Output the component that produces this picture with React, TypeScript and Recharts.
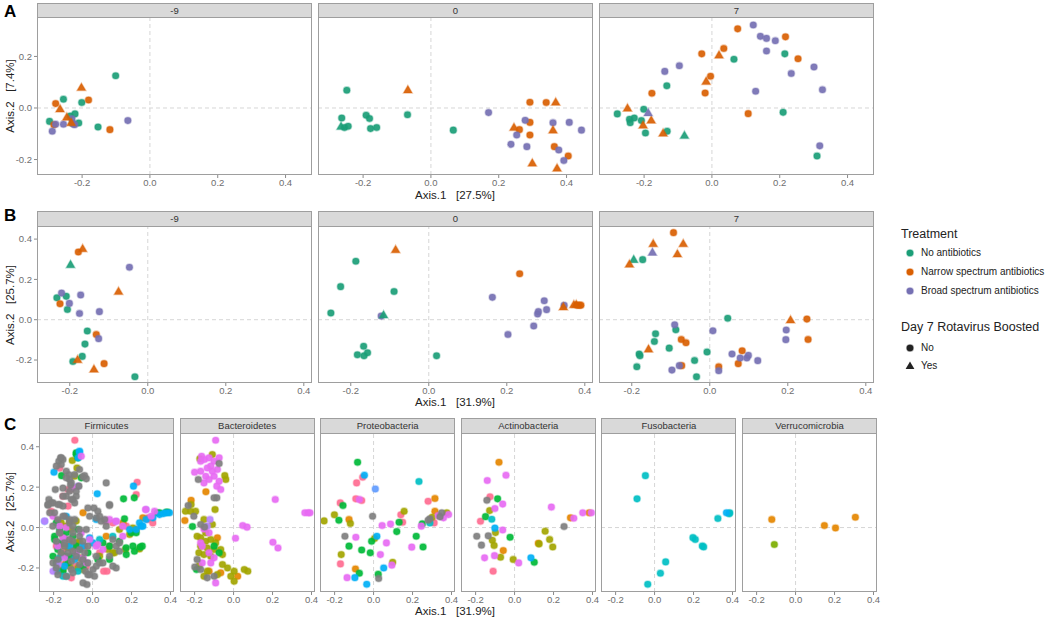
import React from "react";
import { ScatterChart, Scatter, XAxis, YAxis, ReferenceLine } from "recharts";

// ---------- data ----------
type Pt = [number, number, number, number]; // x, y, treatment index, boosted (0/1)
type GPt = [number, number, string]; // x, y, genus key

const treatmentNames = ["No antibiotics", "Narrow spectrum antibiotics", "Broad spectrum antibiotics"];
const treatmentColors = ["#1B9E77", "#D95F02", "#7570B3"];
const boostedNames = ["No", "Yes"];
const dayLabels = ["-9", "0", "7"];
const phylumLabels = ["Firmicutes", "Bacteroidetes", "Proteobacteria", "Actinobacteria", "Fusobacteria", "Verrucomicrobia"];
const xTickValues = [-0.2, 0, 0.2, 0.4];
const yTicksA = [-0.2, 0, 0.2];
const yTicksBC = [-0.2, 0, 0.2, 0.4];
const axisTitleA = ["Axis.1   [27.5%]", "Axis.2   [7.4%]"];
const axisTitleB = ["Axis.1   [31.9%]", "Axis.2   [25.7%]"];

const genusColors: Record<string, string> = {
  pnk: "#FF6C91", org: "#E58700", oli: "#A3A500", ygr: "#7CAE00", grn: "#00BA38",
  tea: "#00BFC4", sky: "#00B0F6", blu: "#619CFF", pur: "#B983FF", mag: "#E76BF3", gry: "#7F7F7F",
};

const aDayM9: Pt[] = [
  [-0.101, 0.125, 0, 0], [-0.202, 0.079, 1, 1], [-0.181, 0.031, 1, 0], [-0.255, 0.034, 0, 0],
  [-0.278, 0.017, 1, 0], [-0.201, 0.021, 0, 0], [-0.265, -0.004, 1, 1], [-0.296, -0.052, 0, 0],
  [-0.283, -0.065, 1, 0], [-0.278, -0.063, 2, 0], [-0.288, -0.09, 2, 0], [-0.255, -0.063, 2, 0],
  [-0.235, -0.031, 0, 0], [-0.23, -0.042, 2, 0], [-0.221, -0.023, 0, 0],
  [-0.229, -0.059, 0, 0], [-0.226, -0.062, 2, 0], [-0.222, -0.065, 2, 0], [-0.21, -0.058, 0, 0],
  [-0.153, -0.074, 0, 0], [-0.118, -0.084, 1, 0], [-0.065, -0.049, 2, 0],
  [-0.245, -0.036, 1, 1], [-0.232, -0.057, 1, 1],
];
const aDay0: Pt[] = [
  [-0.248, 0.069, 0, 0], [-0.068, 0.07, 1, 1], [-0.263, -0.039, 0, 0], [-0.191, -0.028, 0, 0],
  [-0.181, -0.041, 0, 0], [-0.069, -0.026, 0, 0], [-0.265, -0.072, 0, 1], [-0.255, -0.076, 0, 0],
  [-0.244, -0.071, 0, 0], [-0.178, -0.08, 0, 0], [-0.16, -0.076, 0, 0], [0.066, -0.086, 0, 0],
  [0.17, -0.018, 2, 0], [0.292, 0.022, 1, 0], [0.34, 0.021, 1, 0], [0.368, 0.022, 1, 1],
  [0.278, -0.048, 2, 0], [0.292, -0.056, 1, 0], [0.245, -0.076, 1, 1], [0.261, -0.084, 1, 0],
  [0.253, -0.105, 2, 0], [0.292, -0.105, 1, 0], [0.36, -0.057, 2, 0], [0.36, -0.086, 1, 1],
  [0.408, -0.056, 2, 0], [0.444, -0.086, 2, 0], [0.236, -0.141, 2, 0], [0.283, -0.15, 2, 0],
  [0.364, -0.15, 1, 0], [0.377, -0.163, 2, 0], [0.405, -0.186, 1, 0], [0.392, -0.204, 2, 0],
  [0.299, -0.214, 1, 1], [0.372, -0.234, 1, 1],
];
const aDay7: Pt[] = [
  [0.122, 0.322, 2, 0], [0.076, 0.307, 1, 0], [0.143, 0.278, 2, 0], [0.161, 0.27, 2, 0],
  [0.187, 0.261, 2, 0], [0.217, 0.276, 1, 0], [0.161, 0.221, 2, 0], [0.215, 0.21, 0, 0],
  [0.254, 0.191, 1, 0], [-0.03, 0.21, 1, 0], [0.021, 0.205, 1, 1], [0.035, 0.231, 1, 0],
  [0.065, 0.189, 0, 0], [-0.139, 0.142, 2, 0], [-0.096, 0.164, 2, 0], [0.234, 0.134, 2, 0],
  [0.301, 0.159, 2, 0], [0.326, 0.071, 2, 0], [0.129, 0.065, 2, 0], [-0.004, 0.123, 1, 0],
  [-0.017, 0.103, 1, 1], [-0.02, 0.058, 1, 0], [-0.133, 0.086, 0, 0], [-0.177, 0.057, 1, 0],
  [-0.249, -0.001, 1, 1], [-0.279, -0.023, 0, 0], [-0.201, -0.005, 0, 0], [-0.188, -0.019, 2, 1],
  [-0.229, -0.039, 0, 0], [-0.243, -0.044, 0, 0], [-0.241, -0.057, 0, 0], [-0.208, -0.049, 0, 0],
  [-0.203, -0.067, 1, 1], [-0.179, -0.048, 1, 1], [-0.196, -0.097, 0, 0], [-0.144, -0.098, 1, 1],
  [-0.132, -0.09, 0, 0], [-0.081, -0.107, 0, 1], [0.107, -0.022, 1, 0], [0.21, -0.017, 0, 0],
  [0.318, -0.147, 2, 0], [0.31, -0.186, 0, 0],
];

const bDayM9: Pt[] = [
  [-0.167, 0.352, 1, 1], [-0.178, 0.336, 1, 0], [-0.198, 0.273, 0, 1], [-0.047, 0.26, 2, 0],
  [-0.075, 0.14, 1, 1], [-0.233, 0.109, 0, 0], [-0.221, 0.132, 2, 0], [-0.209, 0.116, 0, 0],
  [-0.172, 0.123, 2, 0], [-0.225, 0.079, 1, 0], [-0.201, 0.081, 2, 0], [-0.206, 0.051, 0, 0],
  [-0.175, 0.031, 2, 0], [-0.124, 0.04, 2, 0], [-0.155, -0.056, 0, 0], [-0.132, -0.073, 1, 0],
  [-0.126, -0.094, 2, 0], [-0.161, -0.121, 0, 0], [-0.168, -0.182, 0, 0], [-0.18, -0.199, 1, 1],
  [-0.192, -0.207, 0, 0], [-0.112, -0.218, 1, 0], [-0.138, -0.246, 1, 1], [-0.033, -0.283, 0, 0],
];
const bDay0: Pt[] = [
  [-0.085, 0.347, 1, 1], [-0.187, 0.29, 0, 0], [-0.226, 0.164, 0, 0], [-0.089, 0.14, 0, 0],
  [-0.251, 0.033, 0, 0], [-0.122, 0.018, 2, 0], [-0.116, 0.023, 0, 1], [-0.167, -0.132, 0, 0],
  [-0.183, -0.174, 0, 0], [-0.166, -0.179, 0, 0], [-0.157, -0.164, 0, 0], [0.02, -0.179, 0, 0],
  [0.233, 0.228, 1, 0], [0.163, 0.111, 2, 0], [0.296, 0.094, 2, 0], [0.302, 0.05, 2, 0],
  [0.281, 0.04, 2, 0], [0.279, 0.028, 2, 0], [0.269, -0.031, 2, 0], [0.203, -0.073, 2, 0],
  [0.347, 0.071, 2, 0], [0.345, 0.063, 1, 1], [0.372, 0.074, 1, 1], [0.38, 0.072, 1, 0],
  [0.386, 0.072, 1, 0], [0.39, 0.072, 1, 0], [0.378, 0.075, 1, 1],
];
const bDay7: Pt[] = [
  [-0.093, 0.432, 1, 0], [-0.145, 0.377, 1, 1], [-0.068, 0.377, 1, 1], [-0.147, 0.334, 2, 1],
  [-0.083, 0.326, 1, 1], [-0.195, 0.298, 0, 1], [-0.172, 0.298, 0, 0], [-0.206, 0.275, 1, 1],
  [0.046, 0.007, 0, 0], [0.207, -0.002, 1, 1], [0.249, 0.003, 1, 0], [-0.09, -0.025, 2, 0],
  [-0.087, -0.05, 0, 0], [0.008, -0.055, 2, 0], [0.196, -0.051, 2, 0], [0.195, -0.099, 2, 0],
  [0.252, -0.098, 1, 0], [-0.139, -0.07, 0, 0], [-0.142, -0.108, 0, 0], [-0.073, -0.098, 1, 0],
  [-0.061, -0.114, 1, 0], [-0.104, -0.141, 0, 0], [-0.157, -0.146, 1, 1], [-0.181, -0.17, 0, 0],
  [-0.179, -0.179, 0, 0], [-0.187, -0.233, 0, 0], [-0.007, -0.16, 0, 0], [-0.039, -0.202, 0, 0],
  [-0.034, -0.283, 0, 0], [-0.078, -0.228, 2, 0], [-0.072, -0.228, 1, 0], [-0.097, -0.25, 2, 0],
  [0.023, -0.233, 1, 0], [0.023, -0.253, 2, 0], [0.057, -0.17, 2, 0], [0.083, -0.154, 1, 0],
  [0.078, -0.19, 2, 0], [0.073, -0.218, 1, 0], [0.095, -0.19, 2, 0], [0.099, -0.177, 2, 0],
  [0.123, -0.203, 2, 0],
];

const firmicutes: GPt[] = [
  [-0.091, 0.432, "pnk"],
  [-0.164, 0.345, "gry"], [-0.173, 0.328, "gry"], [-0.152, 0.337, "gry"], [-0.161, 0.312, "gry"],
  [-0.135, 0.279, "gry"], [-0.121, 0.261, "gry"], [-0.113, 0.211, "gry"], [-0.152, 0.195, "gry"],
  [-0.191, 0.188, "gry"], [-0.084, 0.155, "gry"], [-0.07, 0.205, "gry"], [-0.118, 0.238, "gry"],
  [-0.05, 0.251, "gry"], [-0.041, 0.257, "gry"], [-0.032, 0.241, "gry"], [-0.084, 0.18, "gry"],
  [-0.135, 0.155, "gry"], [-0.224, 0.139, "gry"], [-0.229, 0.111, "gry"], [-0.203, 0.122, "gry"],
  [-0.178, 0.114, "gry"], [-0.152, 0.106, "gry"], [-0.109, 0.139, "gry"], [-0.092, 0.122, "gry"],
  [-0.067, 0.373, "sky"], [-0.074, 0.345, "sky"], [-0.198, 0.274, "sky"], [0.024, 0.167, "sky"], [-0.246, 0.031, "blu"],
  [-0.084, 0.361, "grn"], [-0.159, 0.257, "grn"], [-0.058, 0.246, "grn"],
  [-0.104, 0.332, "oli"], [-0.08, 0.295, "oli"], [-0.092, 0.254, "oli"],
  [-0.169, 0.294, "pnk"], [-0.113, 0.188, "pnk"], [-0.212, 0.081, "pnk"], [-0.152, 0.155, "pnk"], [-0.126, 0.188, "pnk"],
  [-0.203, 0.056, "mag"], [-0.058, 0.353, "mag"], [-0.101, 0.196, "mag"],
  [0.21, 0.205, "sky"], [0.229, 0.224, "pnk"], [0.224, 0.163, "pnk"], [0.214, 0.147, "grn"], [0.159, 0.142, "grn"],
  [0.007, 0.097, "gry"], [0.087, 0.109, "gry"], [0.272, 0.089, "mag"], [0.318, 0.081, "mag"], [0.332, 0.073, "grn"],
  [0.344, 0.064, "sky"], [0.364, 0.069, "sky"], [0.378, 0.073, "sky"], [0.395, 0.073, "sky"], [0.386, 0.076, "grn"],
  [0.275, 0.04, "sky"], [0.284, 0.048, "pnk"], [0.258, 0.048, "org"], [0.241, 0.023, "sky"], [0.301, 0.056, "mag"],
  [0.309, 0.023, "pnk"], [0.25, 0.007, "sky"], [0.224, -0.01, "sky"], [0.207, -0.002, "oli"], [0.198, -0.026, "grn"],
  [0.173, 0.007, "pnk"], [0.156, 0.023, "org"], [0.121, 0.031, "mag"], [0.104, 0.023, "pnk"], [0.164, 0.043, "grn"],
  [0.138, -0.01, "oli"], [0.07, 0.007, "gry"], [0.044, 0.031, "gry"], [0.019, 0.048, "gry"], [0.07, 0.031, "pnk"], [0.067, 0.036, "mag"],
  [0.255, -0.092, "grn"], [0.244, -0.097, "grn"], [0.241, -0.106, "oli"], [0.215, -0.117, "grn"], [0.173, -0.134, "grn"],
  [0.169, -0.109, "oli"], [0.121, -0.092, "gry"], [0.138, -0.068, "grn"], [0.104, -0.043, "tea"], [0.087, -0.092, "pnk"],
  [0.113, -0.125, "oli"], [0.079, -0.109, "oli"], [0.053, -0.076, "grn"], [0.036, -0.059, "tea"], [0.019, -0.092, "mag"],
  [0.087, -0.142, "gry"], [0.121, -0.2, "gry"], [0.074, -0.216, "pnk"], [0.036, -0.142, "oli"], [0.027, -0.158, "grn"],
  [0.002, -0.208, "gry"], [-0.024, -0.233, "gry"], [-0.036, -0.216, "gry"], [0.019, -0.191, "gry"], [0.036, -0.175, "gry"],
  [-0.029, -0.282, "gry"],
  [-0.186, 0.023, "grn"], [-0.169, -0.01, "grn"], [-0.195, -0.043, "grn"], [-0.161, -0.076, "grn"], [-0.178, -0.109, "grn"],
  [-0.203, -0.142, "grn"], [-0.186, -0.208, "grn"], [-0.152, -0.216, "grn"], [-0.126, -0.175, "grn"], [-0.109, -0.142, "grn"],
  [-0.084, -0.092, "grn"], [-0.067, -0.109, "grn"], [-0.101, -0.043, "grn"], [-0.135, -0.026, "grn"], [-0.075, -0.01, "grn"],
  [-0.195, 0.073, "gry"], [-0.178, 0.04, "gry"], [-0.144, 0.056, "gry"], [-0.118, 0.023, "gry"], [-0.101, 0.007, "gry"],
  [-0.169, -0.026, "gry"], [-0.186, -0.068, "gry"], [-0.144, -0.092, "gry"], [-0.126, -0.125, "gry"], [-0.101, -0.068, "gry"],
  [-0.067, -0.043, "gry"], [-0.084, -0.142, "gry"], [-0.05, -0.158, "gry"], [-0.178, -0.158, "gry"], [-0.203, -0.175, "gry"],
  [-0.178, -0.233, "gry"], [-0.135, -0.241, "gry"], [-0.109, -0.208, "gry"], [-0.067, -0.183, "gry"], [-0.041, -0.125, "gry"],
  [-0.024, -0.092, "gry"], [-0.05, -0.068, "gry"], [-0.092, 0.04, "gry"], [-0.032, -0.01, "gry"],
  [-0.161, 0.023, "oli"], [-0.135, 0.007, "oli"], [-0.109, -0.01, "oli"], [-0.152, -0.043, "oli"], [-0.118, -0.076, "oli"],
  [-0.161, -0.134, "oli"], [-0.135, -0.175, "oli"], [-0.092, -0.109, "oli"], [-0.067, -0.068, "oli"], [-0.05, -0.208, "oli"],
  [-0.118, -0.191, "oli"],
  [-0.169, 0.007, "mag"], [-0.135, -0.059, "mag"], [-0.178, -0.092, "mag"], [-0.084, -0.125, "mag"], [-0.058, -0.026, "mag"],
  [-0.015, -0.059, "mag"], [-0.032, -0.175, "mag"], [-0.144, -0.15, "mag"],
  [-0.186, -0.092, "pnk"], [-0.152, -0.117, "pnk"], [-0.084, -0.191, "pnk"], [-0.109, -0.249, "pnk"], [-0.161, -0.183, "pnk"], [-0.032, -0.191, "pnk"],
  [-0.118, -0.092, "sky"], [-0.092, -0.158, "sky"], [-0.144, -0.191, "sky"], [-0.05, -0.092, "sky"], [-0.135, 0.056, "sky"],
  [-0.183, -0.216, "tea"], [-0.152, -0.241, "tea"], [-0.169, -0.15, "tea"], [-0.075, -0.216, "tea"],
  [-0.118, 0.031, "org"], [-0.152, -0.084, "org"], [-0.067, -0.15, "org"],
  [-0.178, -0.183, "pur"], [-0.203, -0.216, "pur"],
  [0.275, 0.089, "pur"], [0.344, 0.073, "grn"], [0.378, 0.076, "grn"], [0.31, 0.048, "sky"], [0.284, 0.04, "pnk"],
  [0.258, 0.007, "sky"], [0.224, -0.01, "org"], [0.19, -0.01, "sky"], [0.155, 0.007, "mag"], [0.121, 0.031, "pur"],
  [0.087, 0.04, "mag"], [0.062, 0.04, "gry"], [0.036, 0.056, "gry"], [0.019, 0.04, "sky"],
  [0.07, -0.043, "org"], [0.104, -0.059, "gry"], [0.155, -0.043, "mag"], [0.19, -0.034, "oli"], [0.224, -0.026, "grn"],
  [0.138, -0.076, "gry"], [0.087, -0.092, "grn"], [0.053, -0.109, "mag"], [0.036, -0.125, "pnk"], [0.104, -0.125, "oli"],
  [0.138, -0.117, "gry"], [0.172, -0.1, "grn"], [0.207, -0.092, "grn"], [0.027, -0.084, "mag"], [0.002, -0.076, "sky"],
  [-0.015, -0.051, "sky"], [0.019, -0.142, "gry"], [0.087, -0.158, "grn"], [0.053, -0.175, "gry"], [0.104, -0.191, "gry"],
  [0.057, -0.216, "pnk"], [0.01, -0.241, "gry"], [-0.015, -0.233, "gry"], [-0.049, -0.274, "gry"],
  [-0.186, -0.175, "grn"], [-0.186, -0.2, "gry"], [-0.152, -0.208, "oli"], [-0.135, -0.241, "tea"], [-0.101, -0.224, "gry"],
  [-0.075, -0.2, "oli"], [-0.049, -0.191, "grn"], [-0.024, -0.175, "gry"], [-0.049, -0.15, "mag"], [-0.024, -0.125, "grn"],
  [-0.067, -0.109, "gry"], [-0.041, -0.092, "pnk"], [-0.084, -0.076, "oli"], [-0.118, -0.059, "gry"], [-0.152, -0.051, "mag"],
  [-0.169, -0.026, "gry"], [-0.195, -0.059, "grn"], [-0.178, -0.092, "pnk"], [-0.161, -0.125, "gry"], [-0.135, -0.142, "grn"],
  [-0.109, -0.167, "gry"], [-0.084, -0.142, "sky"], [-0.101, -0.117, "gry"], [-0.126, -0.1, "oli"], [-0.144, -0.076, "gry"],
  [-0.101, -0.026, "gry"], [-0.135, 0, "mag"], [-0.067, -0.01, "gry"], [-0.084, 0.032, "oli"], [-0.118, 0.04, "gry"],
  [-0.152, 0.056, "gry"], [-0.178, 0.032, "pnk"], [-0.204, 0.007, "gry"], [-0.22, 0.073, "gry"], [-0.212, 0.122, "gry"],
  [-0.229, 0.114, "gry"], [-0.169, 0.114, "gry"], [-0.126, 0.106, "pnk"], [-0.101, 0.139, "gry"], [-0.152, 0.155, "gry"],
  [-0.118, 0.18, "gry"], [-0.075, 0.205, "pur"], [-0.109, 0.221, "gry"], [-0.135, 0.246, "gry"], [-0.092, 0.262, "gry"],
  [-0.067, 0.287, "gry"], [-0.186, 0.304, "gry"], [-0.161, 0.345, "gry"], [-0.075, 0.345, "grn"], [-0.084, 0.37, "grn"],
  [-0.067, 0.378, "sky"], [0.07, 0.221, "gry"], [0.087, 0.114, "gry"], [0.027, 0.081, "gry"], [-0.024, 0.097, "gry"],
  [-0.015, 0.056, "gry"], [-0.246, 0.032, "pur"], [-0.049, 0.073, "org"],
];

const bacteroidetes: GPt[] = [
  [-0.092, 0.432, "mag"], [-0.164, 0.353, "mag"], [-0.149, 0.337, "mag"], [-0.126, 0.345, "mag"], [-0.1, 0.328, "mag"],
  [-0.074, 0.345, "mag"], [-0.117, 0.304, "mag"], [-0.083, 0.287, "mag"], [-0.169, 0.279, "mag"], [-0.2, 0.274, "mag"],
  [-0.143, 0.254, "mag"], [-0.1, 0.254, "mag"], [-0.074, 0.229, "mag"], [-0.086, 0.205, "mag"], [-0.066, 0.188, "mag"],
  [-0.152, 0.221, "mag"], [-0.126, 0.238, "mag"], [-0.169, 0.328, "mag"], [-0.109, 0.279, "mag"], [-0.135, 0.295, "mag"],
  [-0.109, 0.361, "oli"], [-0.045, 0.257, "oli"], [-0.04, 0.238, "oli"], [-0.173, 0.34, "oli"],
  [-0.181, 0.238, "gry"], [-0.086, 0.147, "gry"], [-0.1, 0.147, "gry"], [-0.074, 0.317, "gry"],
  [-0.142, 0.177, "org"], [-0.25, 0.035, "org"], [-0.218, 0.135, "org"],
  [-0.233, 0.109, "gry"], [-0.204, 0.056, "gry"], [-0.169, 0.015, "gry"], [-0.149, 0.003, "gry"],
  [-0.218, 0.114, "oli"], [-0.221, 0.081, "oli"], [-0.195, 0.081, "oli"], [-0.247, 0.081, "oli"], [-0.095, 0.089, "oli"],
  [-0.152, 0.04, "oli"], [-0.109, 0.015, "oli"], [-0.143, -0.026, "oli"],
  [-0.121, 0.04, "pur"], [-0.135, 0.007, "pur"], [-0.126, -0.026, "mag"], [-0.152, -0.007, "mag"],
  [-0.211, 0.005, "grn"], [-0.1, -0.092, "grn"],
  [-0.187, -0.043, "oli"], [-0.169, -0.051, "oli"], [-0.143, -0.068, "oli"], [-0.117, -0.059, "oli"], [-0.092, -0.076, "oli"],
  [-0.169, -0.092, "oli"], [-0.135, -0.101, "oli"], [-0.1, -0.109, "oli"], [-0.066, -0.109, "oli"], [-0.057, -0.134, "oli"],
  [-0.178, -0.125, "oli"], [-0.152, -0.134, "oli"], [-0.117, -0.142, "oli"], [-0.057, -0.183, "oli"], [-0.031, -0.2, "oli"],
  [0.003, -0.216, "oli"], [-0.014, -0.241, "oli"], [0.003, -0.266, "oli"], [0.055, -0.208, "oli"], [0.073, -0.216, "oli"],
  [-0.135, -0.216, "oli"], [-0.178, -0.191, "oli"], [-0.152, -0.241, "oli"], [-0.083, -0.233, "oli"],
  [-0.169, -0.076, "mag"], [-0.126, -0.125, "mag"], [-0.161, -0.092, "mag"], [-0.1, -0.15, "mag"], [-0.092, -0.274, "mag"],
  [-0.161, -0.175, "mag"], [-0.117, -0.175, "mag"],
  [-0.083, -0.051, "org"], [-0.066, -0.224, "org"], [-0.126, -0.216, "org"], [0.021, -0.241, "org"],
  [-0.199, -0.195, "gry"], [-0.169, -0.208, "gry"], [-0.1, -0.241, "gry"], [-0.187, -0.158, "gry"], [-0.135, -0.249, "gry"],
  [-0.19, -0.208, "grn"], [-0.074, -0.125, "grn"],
  [0.214, 0.139, "mag"], [0.202, -0.073, "mag"], [0.228, -0.101, "mag"], [0.047, 0.01, "mag"], [0.069, 0.002, "mag"],
  [0.01, -0.053, "mag"], [0.366, 0.073, "mag"], [0.383, 0.073, "mag"], [0.392, 0.073, "mag"],
];

const proteobacteria: GPt[] = [
  [-0.082, 0.323, "grn"], [-0.056, 0.249, "pnk"], [-0.047, 0.259, "sky"], [-0.087, 0.221, "pnk"], [0.009, 0.191, "blu"],
  [-0.091, 0.142, "pnk"], [-0.061, 0.134, "pnk"], [-0.073, 0.139, "mag"], [-0.171, 0.122, "pnk"], [-0.157, 0.109, "grn"],
  [-0.201, 0.063, "oli"], [-0.178, 0.036, "grn"], [-0.254, 0.033, "oli"], [-0.126, 0.04, "org"], [-0.119, 0.02, "oli"],
  [-0.005, 0.056, "gry"], [0.233, 0.228, "tea"], [0.28, 0.13, "pnk"], [0.315, 0.144, "org"], [0.14, 0.063, "pnk"],
  [0.149, 0.026, "pnk"], [0.157, 0.081, "oli"], [0.301, 0.051, "oli"], [0.315, 0.081, "org"], [0.35, 0.073, "gry"],
  [0.341, 0.053, "gry"], [0.289, 0.043, "gry"], [0.28, 0.036, "gry"], [0.332, 0.059, "mag"], [0.385, 0.064, "mag"],
  [0.359, 0.048, "mag"], [0.376, 0.073, "oli"], [0.25, 0.018, "grn"], [0.245, 0.007, "mag"], [0.311, 0.023, "pnk"],
  [0.289, 0.023, "tea"], [0.131, 0.026, "grn"], [0.087, 0.017, "mag"], [0.044, 0.01, "mag"], [0.119, -0.02, "grn"],
  [-0.147, -0.043, "gry"], [-0.091, -0.048, "mag"], [0.017, -0.043, "sky"], [0.005, -0.054, "oli"], [-0.01, -0.068, "grn"],
  [-0.126, -0.092, "grn"], [0.066, -0.076, "mag"], [-0.061, -0.111, "grn"], [0.219, -0.043, "grn"], [0.196, -0.097, "mag"],
  [0.254, -0.096, "grn"], [-0.017, -0.125, "grn"], [0.035, -0.134, "mag"], [-0.166, -0.134, "oli"], [-0.17, -0.18, "pnk"],
  [0.098, -0.172, "oli"], [0.052, -0.2, "sky"], [0.094, -0.186, "mag"], [-0.093, -0.205, "org"], [-0.073, -0.226, "grn"],
  [-0.096, -0.248, "sky"], [-0.136, -0.248, "mag"], [0.024, -0.231, "grn"], [0.026, -0.252, "gry"], [-0.035, -0.281, "sky"],
];

const actinobacteria: GPt[] = [
  [-0.08, 0.323, "org"], [-0.044, 0.259, "mag"], [-0.14, 0.233, "mag"], [-0.126, 0.152, "pnk"], [-0.142, 0.135, "gry"],
  [-0.087, 0.142, "grn"], [-0.061, 0.116, "mag"], [-0.101, 0.094, "mag"], [-0.128, 0.084, "oli"], [-0.149, 0.054, "grn"],
  [-0.117, 0.041, "tea"], [-0.175, 0.031, "pnk"], [-0.101, -0.003, "sky"], [-0.061, -0.012, "mag"], [-0.098, -0.025, "oli"],
  [-0.194, -0.043, "gry"], [-0.135, -0.041, "gry"], [-0.023, -0.048, "grn"], [-0.114, -0.063, "oli"], [-0.17, -0.087, "gry"],
  [-0.105, -0.089, "oli"], [-0.058, -0.114, "org"], [-0.103, -0.139, "mag"], [-0.154, -0.15, "mag"], [-0.072, -0.147, "oli"],
  [-0.007, -0.158, "oli"], [0.021, -0.175, "mag"], [0.084, -0.15, "sky"], [0.101, -0.172, "grn"], [-0.11, -0.216, "pnk"],
  [0.189, 0.101, "mag"], [0.254, 0.005, "gry"], [0.287, 0.048, "org"], [0.304, 0.046, "mag"], [0.35, 0.073, "mag"],
  [0.383, 0.073, "org"], [0.394, 0.073, "mag"], [0.157, -0.018, "oli"], [0.18, -0.059, "oli"], [0.196, -0.096, "oli"],
  [0.122, -0.078, "org"], [0.126, -0.081, "oli"],
];

const fusobacteria: GPt[] = [
  [-0.047, 0.257, "tea"], [-0.09, 0.142, "tea"], [0.369, 0.073, "sky"], [0.386, 0.073, "tea"], [0.383, 0.068, "tea"],
  [0.325, 0.045, "tea"], [0.197, -0.05, "tea"], [0.209, -0.059, "tea"], [0.245, -0.091, "tea"], [0.252, -0.096, "tea"],
  [0.057, -0.17, "tea"], [0.03, -0.226, "tea"], [-0.035, -0.281, "tea"],
];

const verrucomicrobia: GPt[] = [
  [-0.122, 0.04, "org"], [0.307, 0.051, "org"], [0.148, 0.01, "org"], [0.205, -0.002, "org"], [-0.109, -0.084, "ygr"],
];

const rowAData = [aDayM9, aDay0, aDay7];
const rowBData = [bDayM9, bDay0, bDay7];
const rowCData = [firmicutes, bacteroidetes, proteobacteria, actinobacteria, fusobacteria, verrucomicrobia];

// ---------- layout ----------
const FONT = '"Liberation Sans", Arial, Helvetica, sans-serif';
const YW = 30;
const XH = 18;
const RM = 14;
const BORDER = "#9E9E9E";

type SeriesDef = { key: string; data: { x: number; y: number }[]; color: string; tri: boolean };

const circleShape = (color: string) => (p: any) =>
  <circle cx={p.cx} cy={p.cy} r={3.3} fill={color} fillOpacity={0.92} stroke={color} strokeOpacity={0.35} strokeWidth={1.6} />;
const triShape = (color: string) => (p: any) => (
  <path
    d={`M${p.cx},${p.cy - 4.6}L${p.cx - 4.4},${p.cy + 3}L${p.cx + 4.4},${p.cy + 3}Z`}
    fill={color} fillOpacity={0.92} stroke={color} strokeOpacity={0.35} strokeWidth={1.4}
  />
);

function treatmentSeries(pts: Pt[]): SeriesDef[] {
  const out: SeriesDef[] = [];
  for (const b of [0, 1]) {
    for (let t = 0; t < 3; t++) {
      const data = pts.filter((p) => p[2] === t && p[3] === b).map((p) => ({ x: p[0], y: p[1] }));
      if (data.length) out.push({ key: `${t}-${b}`, data, color: treatmentColors[t], tri: b === 1 });
    }
  }
  return out;
}
function genusSeries(pts: GPt[]): SeriesDef[] {
  return Object.keys(genusColors)
    .map((g) => ({
      key: g,
      data: pts.filter((p) => p[2] === g).map((p) => ({ x: p[0], y: p[1] })),
      color: genusColors[g],
      tri: false,
    }))
    .filter((s) => s.data.length > 0);
}

const fmt = (v: number) => (v === 0 ? "0.0" : v.toFixed(1));

type PanelProps = {
  left: number; top: number; width: number; height: number; stripTop: number; label: string;
  xDomain: [number, number]; yDomain: [number, number]; yTicks: number[]; showY: boolean; series: SeriesDef[];
};

function Panel(p: PanelProps) {
  const chartLeft = p.showY ? p.left - YW : p.left;
  const w = p.width + (p.showY ? YW : 0) + RM;
  return (
    <>
      <div
        style={{
          position: "absolute", left: p.left, top: p.stripTop, width: p.width, height: p.top - p.stripTop + 1,
          boxSizing: "border-box", background: "#D9D9D9", border: `1px solid ${BORDER}`, fontSize: 9.5,
          color: "#333", textAlign: "center", lineHeight: `${p.top - p.stripTop - 1}px`, fontFamily: FONT,
        }}
      >
        {p.label}
      </div>
      <div style={{ position: "absolute", left: chartLeft, top: p.top }}>
        <ScatterChart width={w} height={p.height + XH} margin={{ top: 0, right: RM, bottom: 0, left: 0 }}>
          <XAxis
            type="number" dataKey="x" domain={p.xDomain} ticks={xTickValues} allowDataOverflow
            tickFormatter={fmt} height={XH} tickSize={3} tickMargin={1} axisLine={false}
            tickLine={{ stroke: "#8A8A8A" }} tick={{ fontSize: 9.5, fill: "#6E6E6E", fontFamily: FONT }} interval={0}
          />
          <YAxis
            type="number" dataKey="y" domain={p.yDomain} ticks={p.yTicks} allowDataOverflow hide={!p.showY}
            tickFormatter={fmt} width={YW} tickSize={3} tickMargin={2} axisLine={false}
            tickLine={{ stroke: "#8A8A8A" }} tick={{ fontSize: 9.5, fill: "#6E6E6E", fontFamily: FONT }} interval={0}
          />
          <ReferenceLine x={0} stroke="#D6D6D6" strokeDasharray="4 3" strokeWidth={1} />
          <ReferenceLine y={0} stroke="#D6D6D6" strokeDasharray="4 3" strokeWidth={1} />
          {p.series.map((s) => (
            <Scatter
              key={s.key} data={s.data} isAnimationActive={false}
              shape={s.tri ? triShape(s.color) : circleShape(s.color)}
            />
          ))}
        </ScatterChart>
      </div>
      <div
        style={{
          position: "absolute", left: p.left, top: p.top, width: p.width, height: p.height,
          boxSizing: "border-box", border: `1px solid ${BORDER}`, pointerEvents: "none",
        }}
      />
    </>
  );
}

const abLefts = [37, 318, 599];
const abWidth = 275;
const cLefts = [39, 179.6, 320.2, 460.8, 601.4, 742];
const cWidth = 135;

const rowA = { stripTop: 3, top: 17, height: 158, xDomain: [-0.333, 0.478] as [number, number], yDomain: [-0.26, 0.353] as [number, number] };
const rowB = { stripTop: 211, top: 226, height: 157, xDomain: [-0.284, 0.421] as [number, number], yDomain: [-0.314, 0.465] as [number, number] };
const rowC = { stripTop: 418, top: 433, height: 159, xDomain: [-0.275, 0.418] as [number, number], yDomain: [-0.319, 0.468] as [number, number] };

function Text(props: { x: number; y: number; size: number; children: React.ReactNode; bold?: boolean; color?: string; center?: boolean }) {
  const h = props.size * 1.25;
  return (
    <div
      style={{
        position: "absolute", left: props.center ? props.x - 150 : props.x, width: props.center ? 300 : undefined,
        top: props.y - h / 2, height: h, lineHeight: `${h}px`, fontSize: props.size, fontWeight: props.bold ? 700 : 400,
        color: props.color || "#222", whiteSpace: "pre", fontFamily: FONT, textAlign: props.center ? "center" : "left",
      }}
    >
      {props.children}
    </div>
  );
}

function VText(props: { x: number; y: number; size: number; children: React.ReactNode }) {
  return (
    <div
      style={{
        position: "absolute", left: props.x - 100, top: props.y - 8, width: 200, height: 16, lineHeight: "16px",
        fontSize: props.size, color: "#222", whiteSpace: "pre", fontFamily: FONT, textAlign: "center",
        transform: "rotate(-90deg)",
      }}
    >
      {props.children}
    </div>
  );
}

export default function App() {
  return (
    <div style={{ position: "relative", width: 1050, height: 619, background: "#fff", overflow: "hidden", fontFamily: FONT }}>
      <style>{"body{margin:0;}"}</style>

      {rowAData.map((d, i) => (
        <Panel key={`a${i}`} left={abLefts[i]} width={abWidth} {...rowA} label={dayLabels[i]} yTicks={yTicksA}
          showY={i === 0} series={treatmentSeries(d)} />
      ))}
      {rowBData.map((d, i) => (
        <Panel key={`b${i}`} left={abLefts[i]} width={abWidth} {...rowB} label={dayLabels[i]} yTicks={yTicksBC}
          showY={i === 0} series={treatmentSeries(d)} />
      ))}
      {rowCData.map((d, i) => (
        <Panel key={`c${i}`} left={cLefts[i]} width={cWidth} {...rowC} label={phylumLabels[i]} yTicks={yTicksBC}
          showY={i === 0} series={genusSeries(d)} />
      ))}

      <Text x={4} y={12} size={17} bold color="#000">A</Text>
      <Text x={4} y={216} size={17} bold color="#000">B</Text>
      <Text x={4} y={425} size={17} bold color="#000">C</Text>

      <Text x={455} y={195} size={11.5} center>{axisTitleA[0]}</Text>
      <Text x={455} y={402} size={11.5} center>{axisTitleB[0]}</Text>
      <Text x={455} y={611} size={11.5} center>{axisTitleB[0]}</Text>
      <VText x={10} y={96} size={11.5}>{axisTitleA[1]}</VText>
      <VText x={10} y={305} size={11.5}>{axisTitleB[1]}</VText>
      <VText x={10} y={512} size={11.5}>{axisTitleB[1]}</VText>

      <Text x={901} y={235} size={12.5}>Treatment</Text>
      {treatmentNames.map((n, i) => (
        <React.Fragment key={n}>
          <svg style={{ position: "absolute", left: 904, top: 247 + i * 19 }} width={12} height={12}>
            <circle cx={6} cy={6} r={3.3} fill={treatmentColors[i]} stroke={treatmentColors[i]} strokeOpacity={0.35} strokeWidth={1.6} />
          </svg>
          <Text x={921} y={253 + i * 19} size={10}>{n}</Text>
        </React.Fragment>
      ))}
      <Text x={901} y={328} size={12.5}>Day 7 Rotavirus Boosted</Text>
      {boostedNames.map((n, i) => (
        <React.Fragment key={n}>
          <svg style={{ position: "absolute", left: 904, top: 342 + i * 18 }} width={12} height={12}>
            {i === 0 ? (
              <circle cx={6} cy={6} r={3.3} fill="#222" stroke="#222" strokeOpacity={0.35} strokeWidth={1.6} />
            ) : (
              <path d="M6,1.4L1.6,9L10.4,9Z" fill="#222" />
            )}
          </svg>
          <Text x={921} y={348 + i * 18} size={10}>{n}</Text>
        </React.Fragment>
      ))}
    </div>
  );
}
